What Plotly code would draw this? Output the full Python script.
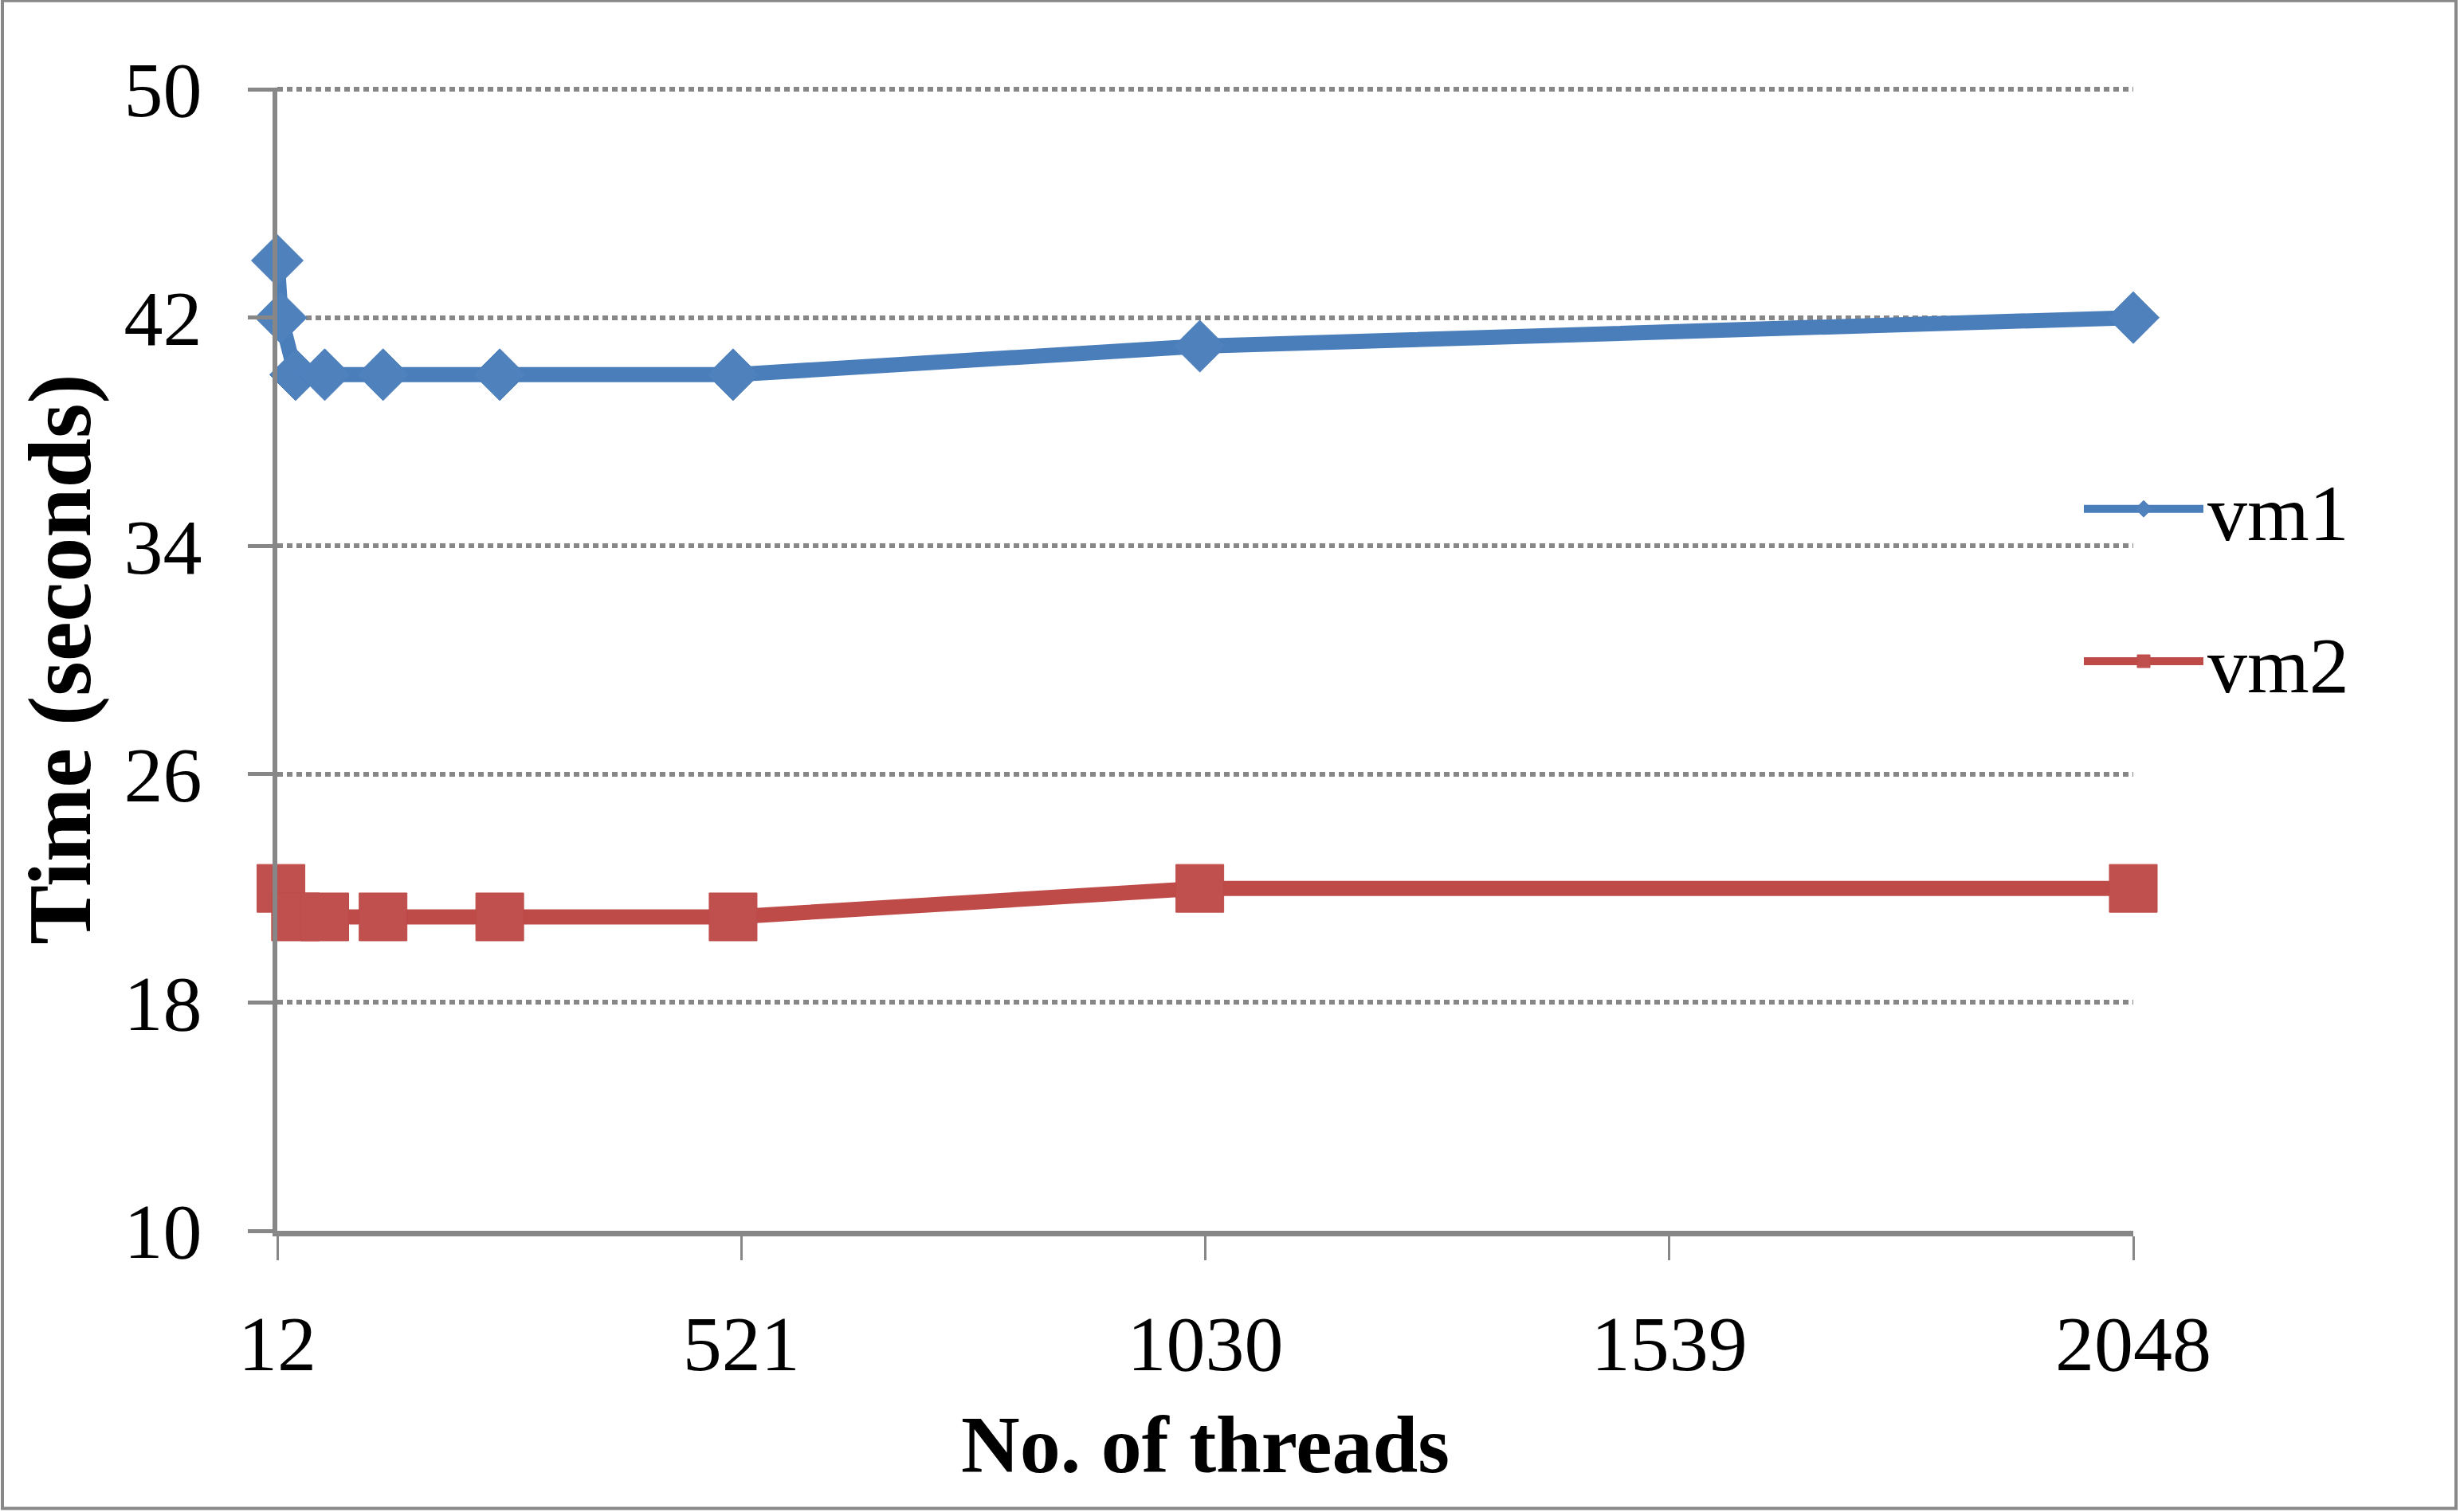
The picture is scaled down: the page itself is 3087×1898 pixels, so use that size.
import plotly.graph_objects as go

# ---- data ----
threads_vm1 = [12, 16, 32, 64, 128, 256, 512, 1024, 2048]
time_vm1 = [44, 42, 40, 40, 40, 40, 40, 41, 42]
threads_vm2 = [16, 32, 64, 128, 256, 512, 1024, 2048]
time_vm2 = [22, 21, 21, 21, 21, 21, 22, 22]
x_tick_vals = [12, 521, 1030, 1539, 2048]
y_tick_vals = [10, 18, 26, 34, 42, 50]

W, H = 3087, 1898
L, R, T, B = 348, 410, 112, 353
FONT = "Palatino Linotype, Book Antiqua, Palatino, Liberation Serif, serif"
AXIS_GRAY = "#878787"
BLUE = "#4A7EBB"
RED = "#BE4B48"

fig = go.Figure()
fig.add_trace(go.Scatter(
    x=threads_vm1, y=time_vm1, name="vm1", mode="lines+markers",
    line=dict(color=BLUE, width=19),
    marker=dict(symbol="diamond", size=50, color="#4F81BD", line=dict(color=BLUE, width=1)),
    cliponaxis=False, legend="legend",
))
fig.add_trace(go.Scatter(
    x=threads_vm2, y=time_vm2, name="vm2", mode="lines+markers",
    line=dict(color=RED, width=19),
    marker=dict(symbol="square", size=60, color="#C0504D", line=dict(color=RED, width=1)),
    cliponaxis=False, legend="legend2",
))

pw = W - L - R
ph = H - T - B
y_top = 50.06  # tiny headroom so the gridline at 50 is drawn

fig.update_layout(
    width=W, height=H,
    margin=dict(l=L, r=R, t=T - 2, b=B, pad=0),
    paper_bgcolor="white", plot_bgcolor="white",
    font=dict(family=FONT, size=98, color="black"),
    showlegend=True,
    legend=dict(x=(2610 - L) / pw, y=(H - B - 640) / ph, xanchor="left", yanchor="middle",
                font=dict(size=100), itemwidth=150, bgcolor="rgba(0,0,0,0)"),
    legend2=dict(x=(2610 - L) / pw, y=(H - B - 831) / ph, xanchor="left", yanchor="middle",
                 font=dict(size=100), itemwidth=150, bgcolor="rgba(0,0,0,0)"),
    xaxis=dict(
        range=[12, 2048], tickmode="array", tickvals=x_tick_vals,
        ticktext=[str(v) for v in x_tick_vals],
        showline=True, linecolor=AXIS_GRAY, linewidth=7,
        ticks="outside", ticklen=30, tickwidth=3, tickcolor=AXIS_GRAY,
        showgrid=False, zeroline=False, ticklabelstandoff=20,
        tickfont=dict(size=98),
        title=dict(text="No. of threads", font=dict(size=102, weight="bold"), standoff=40),
        automargin=False,
    ),
    yaxis=dict(
        range=[10, y_top], tickmode="array", tickvals=y_tick_vals,
        ticktext=[str(v) for v in y_tick_vals],
        showline=True, linecolor=AXIS_GRAY, linewidth=6,
        ticks="outside", ticklen=31, tickwidth=5, tickcolor=AXIS_GRAY,
        showgrid=True, gridcolor=AXIS_GRAY, gridwidth=6, griddash="7px,5px",
        zeroline=False, ticklabelstandoff=38,
        tickfont=dict(size=98),
        title=dict(text="Time (seconds)", font=dict(size=112, weight="bold"), standoff=6),
        automargin=False,
    ),
    shapes=[dict(
        type="rect", xref="paper", yref="paper",
        x0=(3 - L) / pw, x1=(W - 5 - L) / pw,
        y0=(H - B - (H - 5)) / ph, y1=(H - B - 3) / ph,
        line=dict(color="#888888", width=4), fillcolor="rgba(0,0,0,0)", layer="below",
    )],
)

fig.write_html("out.html", config={"displayModeBar": False},
               post_script="document.body.style.margin='0';")
